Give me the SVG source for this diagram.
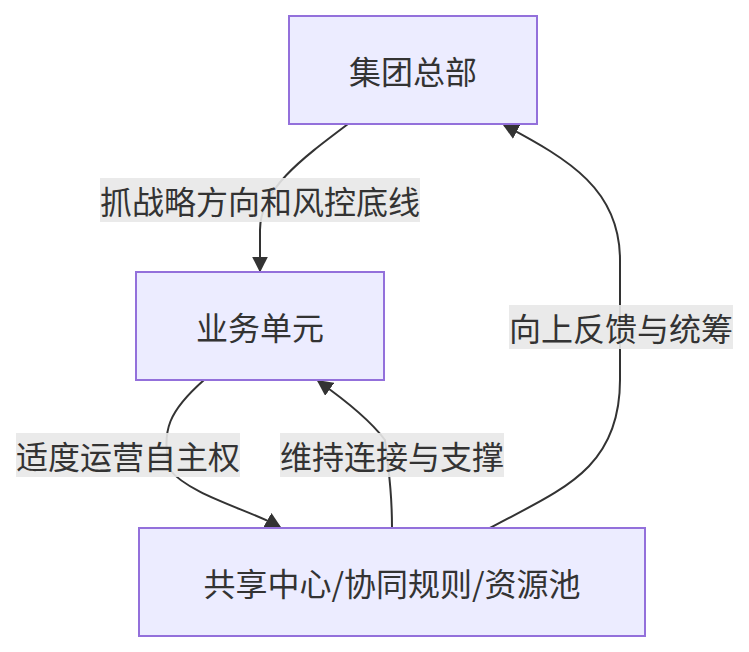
<svg xmlns="http://www.w3.org/2000/svg" width="749" height="652" viewBox="0 0 749 652">
<defs>
<style>
.n{fill:#ECECFF;stroke:#9370DB;stroke-width:2}
.t{font-family:"Noto Sans CJK SC","Liberation Sans",sans-serif;font-size:32px;fill:#333;text-anchor:middle;dominant-baseline:central}
.e{fill:none;stroke:#333;stroke-width:2;marker-end:url(#a)}
.lb{fill:#e8e8e8;opacity:0.9}
</style>
<marker id="a" viewBox="0 0 10 10" refX="9" refY="5" markerWidth="8" markerHeight="8" orient="auto"><path d="M0,0L10,5L0,10z" fill="#333"/></marker>
</defs>
<rect width="749" height="652" fill="#fff"/>
<g id="connectors">
<path class="e" d="M348,124C300,160 260,190 260,230L260,271"/>
<path class="e" d="M204,380C170,410 160,430 170,470C190,495 250,510 280,527"/>
<path class="e" d="M392,528C392,500 390,480 385,440C370,420 345,400 318,381"/>
<path class="e" d="M490,528C560,490 620,470 620,380L620,260C620,190 570,160 504,125"/>
<rect class="lb" x="100" y="178" width="320" height="44"/>
<text class="t" x="260" y="200">抓战略方向和风控底线</text>
<rect class="lb" x="16" y="433" width="224" height="44"/>
<text class="t" x="128" y="455">适度运营自主权</text>
<rect class="lb" x="280" y="433" width="224" height="44"/>
<text class="t" x="392" y="455">维持连接与支撑</text>
<rect class="lb" x="509" y="305" width="224" height="44"/>
<text class="t" x="621" y="327">向上反馈与统筹</text>
</g>
<g id="n1"><rect class="n" x="289" y="16" width="248" height="108"/><text class="t" x="413" y="70">集团总部</text></g>
<g id="n2"><rect class="n" x="136" y="272" width="248" height="108"/><text class="t" x="260" y="326">业务单元</text></g>
<g id="n3"><rect class="n" x="139" y="528" width="506" height="108"/><text class="t" x="392" y="582">共享中心/协同规则/资源池</text></g>
</svg>
